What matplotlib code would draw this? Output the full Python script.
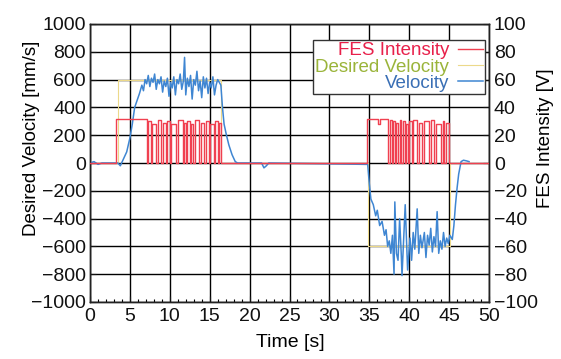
import matplotlib
matplotlib.use("Agg")
import matplotlib.pyplot as plt

plt.rcParams['font.family'] = ['Liberation Sans', 'DejaVu Sans']

# Velocity [mm/s]
vel_t = [0, 0.5, 1.0, 1.5, 3.5, 3.8, 4.2, 4.6, 5.0, 5.3, 5.6, 5.9, 6.2, 6.5, 6.7, 6.9, 7.1, 7.3, 7.5, 7.7,
         7.9, 8.1, 8.3, 8.5, 8.7, 8.9, 9.1, 9.3, 9.5, 9.7, 9.9, 10.1, 10.3, 10.5, 10.7, 10.9, 11.1, 11.3,
         11.5, 11.7, 11.85, 12.0, 12.2, 12.4, 12.6, 12.8, 13.0, 13.2, 13.4, 13.6, 13.8, 14.0, 14.2, 14.4,
         14.6, 14.8, 15.0, 15.2, 15.4, 15.6, 15.8, 16.0, 16.2, 16.4, 16.6, 16.8, 17.1, 17.4, 17.8, 18.2,
         18.5, 21.5, 21.8, 22.1, 22.4, 34.8, 35.0, 35.2, 35.5, 35.8, 36.0, 36.3, 36.6, 36.9, 37.1, 37.3,
         37.5, 37.7, 37.9, 38.1, 38.2, 38.4, 38.6, 38.8, 39.0, 39.1, 39.3, 39.5, 39.7, 39.8, 40.1, 40.3,
         40.5, 40.7, 41.0, 41.2, 41.4, 41.6, 41.9, 42.1, 42.3, 42.5, 42.7, 42.9, 43.1, 43.3, 43.5, 43.7,
         43.9, 44.1, 44.3, 44.5, 44.7, 44.9, 45.1, 45.4, 45.6, 45.8, 46.0, 46.2, 46.5, 46.8, 47.2, 47.5]
vel_v = [0, 10, -10, 0, 0, -20, 30, 80, 180, 280, 400, 450, 500, 560, 520, 600, 570, 630, 550, 610,
         580, 640, 530, 600, 570, 620, 510, 590, 550, 610, 480, 580, 540, 620, 490, 600, 570, 640,
         530, 590, 760, 490, 610, 550, 630, 460, 600, 560, 660, 520, 590, 470, 620, 540,
         610, 500, 580, 540, 620, 490, 560, 600, 580, 560, 400, 280, 200, 130, 60, 10,
         0, 0, -35, -20, 0, -10, -150, -260, -300, -380, -340, -450, -420, -520, -480, -600,
         -560, -650, -520, -800, -280, -650, -700, -400, -650, -810, -560, -300, -620, -770, -540, -700,
         -500, -620, -330, -650, -520, -610, -500, -680, -520, -590, -470, -640, -530, -600, -350, -650,
         -560, -620, -500, -600, -540, -580, -520, -550, -450, -300, -180, -80, 10, 20, 15, 10]

# Desired velocity [mm/s]
des_t = [0, 3.5, 3.5, 16.4, 16.4, 34.8, 34.8, 45.1, 45.1, 50]
des_v = [0, 0, 600, 600, 0, 0, -600, -600, 0, 0]

# FES intensity [V]
fes_t = [0, 3.3, 7.1, 7.3, 7.6, 7.8, 8.3, 8.5, 8.9, 9.1, 9.5, 9.7, 10.0, 10.2, 10.8, 11.0, 11.6, 11.8,
         12.0, 12.2, 12.5, 12.6, 12.9, 13.1, 13.7, 13.9, 14.3, 14.5, 14.9, 15.1, 15.6, 15.7, 16.1, 16.2,
         16.4, 34.7, 36.1, 36.3, 37.3, 37.6, 37.8, 38.0, 38.2, 38.4, 38.6, 38.8, 39.0, 39.2, 39.5, 39.6,
         39.8, 40.0, 40.3, 40.5, 41.0, 41.2, 41.6, 41.8, 42.5, 42.7, 43.1, 43.3, 44.0, 44.2, 44.4, 44.6,
         45.0, 50]
fes_v = [0, 32, 0, 30, 0, 28, 0, 31, 0, 29, 0, 30, 0, 28, 0, 31, 0, 29,
         0, 30, 0, 28, 0, 31, 0, 29, 0, 30, 0, 28, 0, 30, 0, 29,
         0, 32, 28, 32, 0, 31, 0, 30, 0, 29, 0, 31, 0, 30, 0, 28,
         0, 30, 0, 31, 0, 29, 0, 30, 0, 31, 0, 28, 0, 30, 0, 29,
         0, 0]

fig = plt.figure(figsize=(5.61, 3.59), dpi=100)
ax = fig.add_axes([90/561, 1-302/359, 399/561, 278/359])
ax2 = ax.twinx()

l_des, = ax.plot(des_t, des_v, color='#ecd98a', lw=0.8, zorder=2)
l_vel, = ax.plot(vel_t, vel_v, color='#3f86d2', lw=1.1, zorder=3)
l_fes, = ax2.plot(fes_t, fes_v, color='#f04050', lw=1.0, drawstyle='steps-post', zorder=3)

ax.set_xlim(0, 50)
ax.set_ylim(-1000, 1000)
ax2.set_ylim(-100, 100)
ax.set_xticks(range(0, 51, 5))
ax.set_xticks(range(0, 51, 1), minor=True)
ax.set_yticks(range(-1000, 1001, 200))
ax2.set_yticks(range(-100, 101, 20))
ax.grid(True, color='black', lw=1.0)
ax.set_axisbelow(True)

for a in (ax, ax2):
    for s in a.spines.values():
        s.set_color('#222222')
        s.set_linewidth(1.0)

ax.tick_params(axis='both', which='major', direction='in', length=4, labelsize=14, colors='#111111')
ax.tick_params(axis='x', which='minor', direction='in', length=2.5, width=0.8)
ax.tick_params(axis='x', which='major', pad=4)
ax.tick_params(axis='y', which='major', pad=3)
ax2.tick_params(axis='y', direction='in', length=4, labelsize=14, pad=3.5, colors='#111111')

ax.set_xlabel('Time [s]', fontsize=14)
ax.set_ylabel('Desired Velocity [mm/s]', fontsize=13.5)
ax2.set_ylabel('FES Intensity [V]', fontsize=13.5)
ax.xaxis.set_label_coords(0.503, -0.115)
ax.yaxis.set_label_coords(-0.125, 0.59)
ax2.yaxis.set_label_coords(1.12, 0.59)

leg = ax2.legend([l_fes, l_des, l_vel], ['FES Intensity', 'Desired Velocity', 'Velocity'],
                 loc='upper right', bbox_to_anchor=(0.99, 0.942), markerfirst=False,
                 fontsize=13.5, frameon=True, fancybox=False, framealpha=1,
                 edgecolor='#333333', handlelength=1.3, labelspacing=-0.05,
                 borderpad=0.12, borderaxespad=0, handletextpad=0.5)
leg.get_frame().set_linewidth(1.0)
for txt, c in zip(leg.get_texts(), ['#e8204a', '#9ab43a', '#3a6fb5']):
    txt.set_color(c)
    txt.set_ha('right')
leg._legend_box.align = 'right'
leg.set_zorder(10)

fig.savefig('out.png', dpi=100)
